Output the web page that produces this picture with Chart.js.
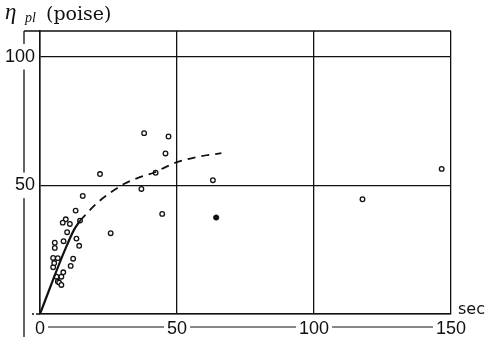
<!DOCTYPE html>
<html>
<head>
<meta charset="utf-8">
<script src="https://cdn.jsdelivr.net/npm/chart.js@4/dist/chart.umd.min.js"></script>
<style>
  html, body { margin: 0; padding: 0; background: #fff; }
</style>
</head>
<body>
<canvas id="chart" width="486" height="338"></canvas>
<script>
// plastic viscosity vs time, open circles = measurements
const openX = [15.6, 13.0, 9.4, 8.3, 10.9, 14.6, 9.9, 5.4, 5.4, 8.6, 13.3, 14.3, 4.8, 6.5, 4.8, 5.2, 12.1, 11.2, 8.5, 6.0, 7.8, 6.5, 7.0, 7.8,
               21.9, 25.8, 37.0, 42.2, 44.6, 45.8, 38.0, 46.9, 63.1, 117.7, 146.6];
const openY = [45.9, 40.2, 36.8, 35.5, 35.0, 36.3, 31.8, 27.7, 25.7, 28.3, 29.3, 26.5, 21.8, 21.7, 18.2, 19.8, 21.5, 18.7, 16.2, 14.5, 14.5, 12.6, 12.2, 11.3,
               54.4, 31.4, 48.6, 54.9, 38.9, 62.4, 70.3, 69.0, 52.0, 44.6, 56.4];
const filledX = [64.3];
const filledY = [37.5];

// fitted curve: solid part then dashed continuation
const solidX = [0, 5.2, 9.1, 12.4, 14.6];
const solidY = [0, 14.5, 24.9, 32.7, 36.3];
const dashX = [14.6, 20.8, 25.5, 30.6, 36.0, 41.7, 46.0, 50.0, 58.0, 66.2];
const dashY = [36.3, 43.1, 47.0, 50.5, 53.0, 55.0, 57.2, 59.0, 61.2, 62.5];

const xTicks = [0, 50, 100, 150];
const yTicks = [50, 100];

const INK = "#111";
const tickFont = { family: "'Liberation Sans', Arial, sans-serif", size: 18 };

function pts(xs, ys) {
  return xs.map((x, i) => ({ x: x, y: ys[i] }));
}

const framePlugin = {
  id: "frame",
  beforeDraw(chart) {
    const { ctx, chartArea: a } = chart;
    ctx.save();
    ctx.strokeStyle = INK;
    ctx.lineWidth = 1.3;
    ctx.beginPath();
    ctx.moveTo(a.left - 16, a.top);
    ctx.lineTo(a.right, a.top);
    ctx.moveTo(a.left - 16, a.top);
    ctx.lineTo(a.left - 16, chart.height - 1);
    ctx.moveTo(a.left - 8, a.bottom);
    ctx.lineTo(a.left, a.bottom);
    ctx.stroke();
    // thin rule the x labels sit on
    ctx.lineWidth = 1;
    ctx.beginPath();
    ctx.moveTo(a.left, a.bottom + 13);
    ctx.lineTo(a.right - 8, a.bottom + 13);
    ctx.stroke();
    ctx.restore();
  },
  afterDraw(chart) {
    const { ctx, chartArea: a } = chart;
    ctx.save();
    ctx.fillStyle = INK;
    ctx.textBaseline = "alphabetic";
    ctx.font = "italic 23px 'Liberation Serif', serif";
    ctx.fillText("η", 5, 19);
    ctx.font = "italic 14px 'Liberation Serif', serif";
    ctx.fillText("pl", 25, 22);
    ctx.font = "19px 'DejaVu Serif', serif";
    ctx.fillText("(poise)", 46, 20);
    ctx.font = "16px 'DejaVu Sans', sans-serif";
    ctx.fillText("sec", a.right + 7, a.bottom);
    ctx.restore();
  },
};

new Chart(document.getElementById("chart"), {
  type: "scatter",
  data: {
    datasets: [
      {
        type: "line",
        data: pts(solidX, solidY),
        borderColor: INK,
        borderWidth: 2.2,
        pointRadius: 0,
        cubicInterpolationMode: "monotone",
      },
      {
        type: "line",
        data: pts(dashX, dashY),
        borderColor: INK,
        borderWidth: 1.8,
        borderDash: [8, 6],
        pointRadius: 0,
        cubicInterpolationMode: "monotone",
      },
      {
        data: pts(openX, openY),
        pointRadius: 2.3,
        borderWidth: 1.3,
        borderColor: INK,
        backgroundColor: "#fff",
      },
      {
        data: pts(filledX, filledY),
        pointRadius: 2.6,
        borderWidth: 1,
        borderColor: INK,
        backgroundColor: INK,
      },
    ],
  },
  options: {
    responsive: false,
    animation: false,
    layout: { padding: { top: 31, right: 35, bottom: 0, left: 0 } },
    plugins: {
      legend: { display: false },
      tooltip: { enabled: false },
    },
    scales: {
      x: {
        type: "linear",
        min: xTicks[0],
        max: xTicks[xTicks.length - 1],
        afterBuildTicks(scale) {
          scale.ticks = xTicks.map(v => ({ value: v }));
        },
        afterFit(scale) {
          scale.height = 24;
        },
        grid: { color: INK, lineWidth: 1.3, drawTicks: false },
        border: { color: INK, width: 1.5 },
        ticks: {
          padding: 4,
          color: INK,
          font: tickFont,
          maxRotation: 0,
          showLabelBackdrop: true,
          backdropColor: "#fff",
          backdropPadding: { x: 3, y: 0 },
        },
      },
      y: {
        type: "linear",
        min: 0,
        max: 110,
        afterBuildTicks(scale) {
          scale.ticks = [0].concat(yTicks).map(v => ({ value: v }));
        },
        afterFit(scale) {
          scale.width = 40;
        },
        grid: { color: INK, lineWidth: 1.3, drawTicks: false },
        border: { color: INK, width: 1.5 },
        ticks: {
          padding: 5,
          color: INK,
          font: tickFont,
          callback: v => (v === 0 ? "" : v),
          showLabelBackdrop: true,
          backdropColor: "#fff",
          backdropPadding: { x: 1, y: 2 },
        },
      },
    },
  },
  plugins: [framePlugin],
});
</script>
</body>
</html>
